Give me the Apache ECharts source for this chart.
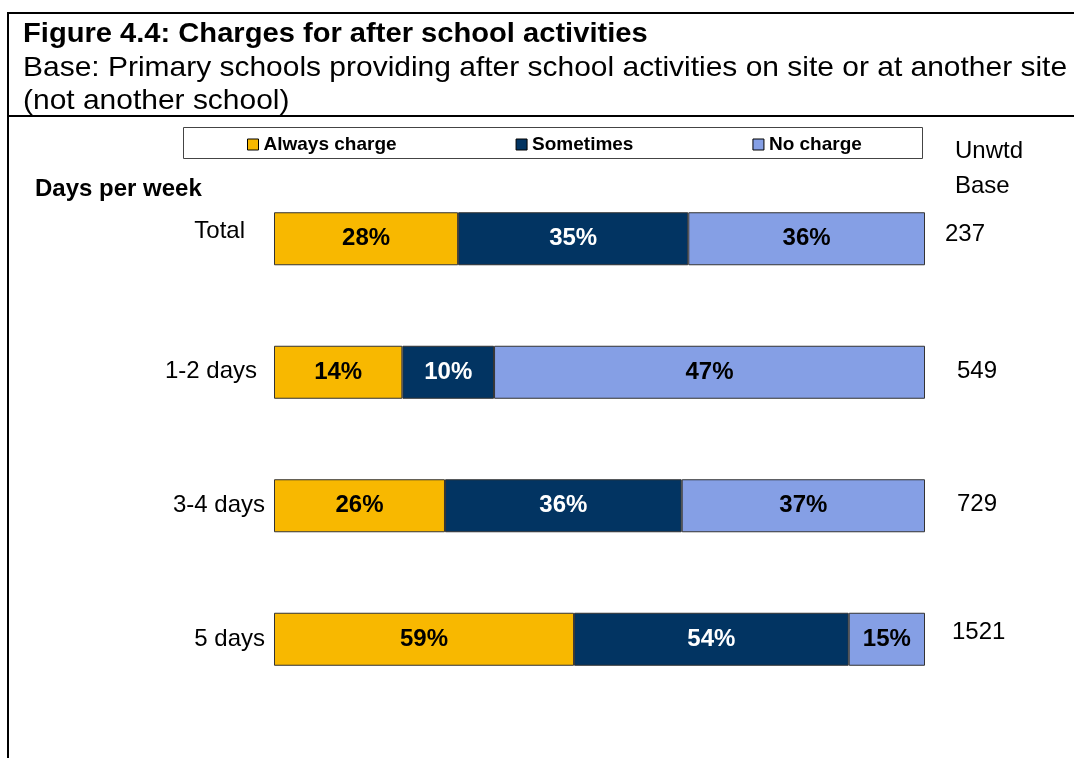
<!DOCTYPE html>
<html>
<head>
<meta charset="utf-8">
<script src="https://cdn.jsdelivr.net/npm/echarts@6/dist/echarts.min.js"></script>
<style>
  html, body { margin: 0; padding: 0; background: #fff; }
  #main { width: 1074px; height: 758px; }
</style>
</head>
<body>
<div id="main"></div>
<script>
    // data
    var categories = ['Total', '1-2 days', '3-4 days', '5 days'];
    var alwaysCharge = [28, 14, 26, 59];
    var sometimes = [35, 10, 36, 54];
    var noCharge = [36, 47, 37, 15];
    var unwtdBase = ['237', '549', '729', '1521'];

    var seriesNames = ['Always charge', 'Sometimes', 'No charge'];
    var colors = ['#F8B800', '#023462', '#859FE5'];
    var raw = [alwaysCharge, sometimes, noCharge];

    // bars fill the full width: each row is scaled to 100
    var totals = categories.map(function (c, i) {
        return alwaysCharge[i] + sometimes[i] + noCharge[i];
    });

    var font = '"Liberation Sans", Arial, sans-serif';

    var chartDom = document.getElementById('main');
    var myChart = echarts.init(chartDom);

    var series = raw.map(function (vals, s) {
        return {
            name: seriesNames[s],
            type: 'bar',
            stack: 'all',
            barWidth: 53,
            itemStyle: { color: colors[s], borderColor: '#333', borderWidth: 1 },
            label: {
                show: true,
                position: 'inside',
                fontFamily: font,
                fontSize: 24,
                fontWeight: 'bold',
                padding: [3, 0, 0, 0],
                color: s === 1 ? '#fff' : '#000',
                formatter: function (p) { return vals[p.dataIndex] + '%'; }
            },
            emphasis: { disabled: true },
            data: vals.map(function (v, i) { return v / totals[i] * 100; })
        };
    });

    var option = {
        animation: false,
        legend: {
            data: seriesNames,
            left: 247,
            top: 135,
            padding: 0,
            itemGap: 119,
            itemWidth: 11,
            itemHeight: 11,
            icon: 'rect',
            textStyle: { fontFamily: font, fontSize: 19, fontWeight: 'bold', color: '#000' },
            itemStyle: { borderColor: '#000', borderWidth: 1 }
        },
        grid: { left: 274, right: 149, top: 172, bottom: 52 },
        xAxis: { type: 'value', min: 0, max: 100, show: false },
        yAxis: [
            {
                type: 'category',
                inverse: true,
                data: categories,
                axisLine: { show: false },
                axisTick: { show: false },
                axisLabel: {
                    margin: 9,
                    formatter: function (v, i) { return '{c' + i + '|' + v + '}'; },
                    rich: {
                        c0: { fontFamily: font, fontSize: 24, color: '#000', padding: [0, 20, 14, 0] },
                        c1: { fontFamily: font, fontSize: 24, color: '#000', padding: [0, 8, 2, 0] },
                        c2: { fontFamily: font, fontSize: 24, color: '#000', padding: [0, 0, 1, 0] },
                        c3: { fontFamily: font, fontSize: 24, color: '#000', padding: [0, 0, 0, 0] }
                    }
                }
            },
            {
                type: 'category',
                inverse: true,
                position: 'right',
                data: unwtdBase,
                axisLine: { show: false },
                axisTick: { show: false },
                axisLabel: {
                    margin: 20,
                    formatter: function (v, i) { return '{b' + i + '|' + v + '}'; },
                    rich: {
                        b0: { fontFamily: font, fontSize: 24, color: '#000', padding: [0, 0, 9, 0] },
                        b1: { fontFamily: font, fontSize: 24, color: '#000', padding: [0, 0, 1, 12] },
                        b2: { fontFamily: font, fontSize: 24, color: '#000', padding: [0, 0, 2, 12] },
                        b3: { fontFamily: font, fontSize: 24, color: '#000', padding: [0, 0, 14, 7] }
                    }
                }
            }
        ],
        graphic: [
            { type: 'line', shape: { x1: 8, y1: 13, x2: 1074, y2: 13 }, style: { stroke: '#000', lineWidth: 2 } },
            { type: 'line', shape: { x1: 8, y1: 116, x2: 1074, y2: 116 }, style: { stroke: '#000', lineWidth: 2 } },
            { type: 'line', shape: { x1: 8, y1: 12, x2: 8, y2: 758 }, style: { stroke: '#000', lineWidth: 2 } },
            // title block, set slightly wide as in the source
            { type: 'text', x: 23, y: 34, scaleX: 1.04, style: { text: 'Figure 4.4: Charges for after school activities', font: 'bold 28px ' + font, fill: '#000', textVerticalAlign: 'middle' } },
            { type: 'text', x: 23, y: 68, scaleX: 1.07, style: { text: 'Base: Primary schools providing after school activities on site or at another site', font: '28px ' + font, fill: '#000', textVerticalAlign: 'middle' } },
            { type: 'text', x: 23, y: 101, scaleX: 1.07, style: { text: '(not another school)', font: '28px ' + font, fill: '#000', textVerticalAlign: 'middle' } },
            { type: 'rect', z: -1, shape: { x: 183.5, y: 127.5, width: 739, height: 31 }, style: { fill: '#fff', stroke: '#444', lineWidth: 1 } },
            { type: 'text', x: 35, y: 189, style: { text: 'Days per week', font: 'bold 24px ' + font, fill: '#000', textVerticalAlign: 'middle' } },
            { type: 'text', x: 955, y: 151, style: { text: 'Unwtd', font: '24px ' + font, fill: '#000', textVerticalAlign: 'middle' } },
            { type: 'text', x: 955, y: 186, style: { text: 'Base', font: '24px ' + font, fill: '#000', textVerticalAlign: 'middle' } }
        ],
        series: series
    };

    myChart.setOption(option);
</script>
</body>
</html>
